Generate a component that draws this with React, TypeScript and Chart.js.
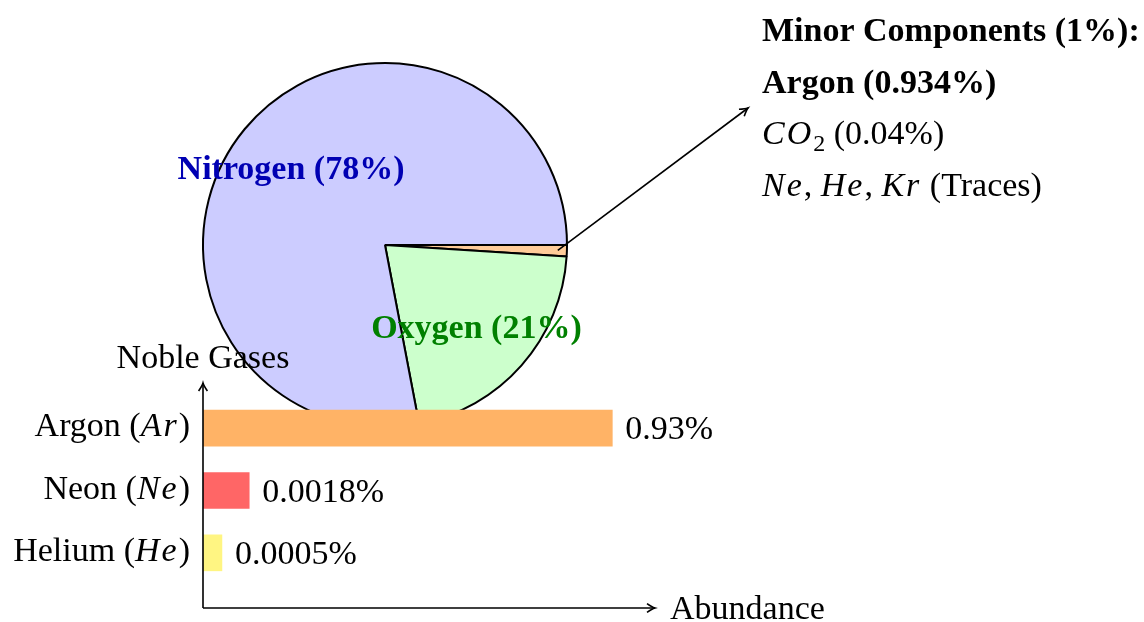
import React, { useEffect, useRef } from "react";
import { Chart, registerables } from "chart.js";

Chart.register(...registerables);

// ---------- Data ----------
const pieCategories = ["Minor Components", "Oxygen", "Nitrogen"];
const pieValues = [1, 21, 78];
const pieSliceLabels = ["", "Oxygen (21%)", "Nitrogen (78%)"];
const pieColors = ["rgb(255,204,153)", "rgb(204,255,204)", "rgb(204,204,255)"];
const pieLabelColors = ["#000", "rgb(0,128,0)", "rgb(0,0,179)"];

const minorTitleLines = ["Minor Components (1%):", "Argon (0.934%)"];
const minorDetailLines = ["$CO_2$ (0.04%)", "$Ne$, $He$, $Kr$ (Traces)"];

const gasCategories = ["Argon ($Ar$)", "Neon ($Ne$)", "Helium ($He$)"];
const gasBarLengths = [0.93, 0.105, 0.043];
const gasValueLabels = ["0.93%", "0.0018%", "0.0005%"];
const gasColors = ["rgb(255,179,102)", "rgb(255,102,102)", "rgb(255,245,130)"];

const yAxisTitle = "Noble Gases";
const xAxisTitle = "Abundance";

// ---------- Helpers ----------
const FAMILY = '"Liberation Serif", "Times New Roman", serif';
const SIZE = 34;

type Seg = { text: string; italic?: boolean; sub?: boolean };

function parseRich(s: string): Seg[] {
  const segs: Seg[] = [];
  s.split("$").forEach((p, i) => {
    if (!p) return;
    if (i % 2 === 1) {
      const m = p.split("_");
      if (m[0]) segs.push({ text: m[0], italic: true });
      for (let k = 1; k < m.length; k++) {
        segs.push({ text: m[k][0], sub: true });
        if (m[k].length > 1) segs.push({ text: m[k].slice(1), italic: true });
      }
    } else {
      segs.push({ text: p });
    }
  });
  return segs;
}

function fontOf(seg: Seg, size: number, bold: boolean) {
  const s = seg.sub ? Math.round(size * 0.7) : size;
  return `${seg.italic ? "italic " : ""}${bold ? "bold " : ""}${s}px ${FAMILY}`;
}

const MATH_GAP = 2;

function segWidth(ctx: CanvasRenderingContext2D, seg: Seg, size: number, bold: boolean) {
  ctx.font = fontOf(seg, size, bold);
  if (seg.italic) {
    let w = 0;
    for (const ch of seg.text) w += ctx.measureText(ch).width;
    return w + MATH_GAP * seg.text.length;
  }
  return ctx.measureText(seg.text).width;
}

function drawRich(
  ctx: CanvasRenderingContext2D,
  s: string,
  x: number,
  y: number,
  opts: { size?: number; bold?: boolean; align?: "left" | "right" | "center"; color?: string } = {}
) {
  const size = opts.size ?? SIZE;
  const bold = !!opts.bold;
  const segs = parseRich(s);
  const widths = segs.map((g) => segWidth(ctx, g, size, bold));
  const total = widths.reduce((a, b) => a + b, 0);
  let cx = x;
  if (opts.align === "right") cx = x - total;
  else if (opts.align === "center") cx = x - total / 2;
  ctx.save();
  ctx.fillStyle = opts.color ?? "#000";
  ctx.textAlign = "left";
  ctx.textBaseline = "alphabetic";
  segs.forEach((g, i) => {
    ctx.font = fontOf(g, size, bold);
    const yy = g.sub ? y + size * 0.2 : y;
    if (g.italic) {
      let px = cx;
      for (const ch of g.text) {
        ctx.fillText(ch, px, yy);
        px += ctx.measureText(ch).width + MATH_GAP;
      }
    } else {
      ctx.fillText(g.text, cx, yy);
    }
    cx += widths[i];
  });
  ctx.restore();
}

function arrowHead(ctx: CanvasRenderingContext2D, x: number, y: number, angle: number, len = 8) {
  ctx.save();
  ctx.translate(x, y);
  ctx.rotate(angle);
  ctx.beginPath();
  ctx.moveTo(-len, -len * 0.55);
  ctx.quadraticCurveTo(-len * 0.35, -len * 0.1, 0, 0);
  ctx.quadraticCurveTo(-len * 0.35, len * 0.1, -len, len * 0.55);
  ctx.stroke();
  ctx.restore();
}

// ---------- Plugins ----------
const pieDecor = {
  id: "pieDecor",
  afterDraw(chart: any) {
    const ctx: CanvasRenderingContext2D = chart.ctx;
    const arcs = chart.getDatasetMeta(0).data;
    // slice labels
    arcs.forEach((arc: any, i: number) => {
      const text = pieSliceLabels[i];
      if (!text) return;
      const mid = (arc.startAngle + arc.endAngle) / 2;
      const r = arc.outerRadius * 0.67;
      const x = arc.x + r * Math.cos(mid);
      const y = arc.y + r * Math.sin(mid);
      ctx.save();
      ctx.font = `bold ${SIZE}px ${FAMILY}`;
      ctx.fillStyle = pieLabelColors[i];
      ctx.textAlign = "center";
      ctx.textBaseline = "alphabetic";
      ctx.fillText(text, x, y + 12);
      ctx.restore();
    });
    // arrow from minor slice to annotation
    const minor = arcs[0];
    const mid = (minor.startAngle + minor.endAngle) / 2;
    const sx = minor.x + minor.outerRadius * 0.95 * Math.cos(mid);
    const sy = minor.y + minor.outerRadius * 0.95 * Math.sin(mid);
    const ex = 748;
    const ey = 108;
    ctx.save();
    ctx.strokeStyle = "#000";
    ctx.lineWidth = 1.6;
    ctx.beginPath();
    ctx.moveTo(sx, sy);
    ctx.lineTo(ex, ey);
    ctx.stroke();
    arrowHead(ctx, ex, ey, Math.atan2(ey - sy, ex - sx), 8);
    ctx.restore();
    // annotation text
    const tx = 762;
    let ty = 41;
    const step = 51.5;
    minorTitleLines.forEach((l) => {
      drawRich(ctx, l, tx, ty, { bold: true });
      ty += step;
    });
    minorDetailLines.forEach((l) => {
      drawRich(ctx, l, tx, ty);
      ty += step;
    });
  },
};

const barDecor = {
  id: "barDecor",
  afterDraw(chart: any) {
    const ctx: CanvasRenderingContext2D = chart.ctx;
    const area = chart.chartArea;
    const yScale = chart.scales.y;
    const xScale = chart.scales.x;
    const ox = area.left;
    const oy = area.bottom + 24;
    const topY = area.top - 14;
    const rightX = area.right;
    ctx.save();
    ctx.strokeStyle = "#000";
    ctx.lineWidth = 1.6;
    ctx.beginPath();
    ctx.moveTo(ox, oy);
    ctx.lineTo(ox, topY);
    ctx.moveTo(ox, oy);
    ctx.lineTo(rightX, oy);
    ctx.stroke();
    arrowHead(ctx, ox, topY, -Math.PI / 2, 8);
    arrowHead(ctx, rightX, oy, 0, 8);
    ctx.restore();

    drawRich(ctx, yAxisTitle, ox, topY - 15, { align: "center" });
    drawRich(ctx, xAxisTitle, rightX + 15, oy + 11, { align: "left" });

    gasCategories.forEach((c, i) => {
      const cy = yScale.getPixelForValue(i);
      drawRich(ctx, c, ox - 13, cy + 8, { align: "right" });
      const endX = xScale.getPixelForValue(gasBarLengths[i]);
      drawRich(ctx, gasValueLabels[i], endX + 13, cy + 11, { align: "left" });
    });
  },
};

// ---------- Component ----------
const W = 1144;
const H = 622;

export default function App() {
  const pieRef = useRef<HTMLCanvasElement | null>(null);
  const barRef = useRef<HTMLCanvasElement | null>(null);

  useEffect(() => {
    if (!pieRef.current || !barRef.current) return;
    const pie = new Chart(pieRef.current, {
      type: "pie",
      data: {
        labels: pieCategories,
        datasets: [
          {
            data: pieValues,
            backgroundColor: pieColors,
            borderColor: "#000",
            borderWidth: 2,
            hoverOffset: 0,
            offset: 0,
          } as any,
        ],
      },
      options: {
        responsive: false,
        animation: false,
        rotation: 90,
        layout: { padding: { left: 202, right: 576, top: 62, bottom: 194 } },
        plugins: { legend: { display: false }, tooltip: { enabled: false } },
        events: [],
      } as any,
      plugins: [pieDecor],
    });

    const bar = new Chart(barRef.current, {
      type: "bar",
      data: {
        labels: gasCategories,
        datasets: [
          {
            data: gasBarLengths,
            backgroundColor: gasColors,
            borderWidth: 0,
            barThickness: 36,
          },
        ],
      },
      options: {
        indexAxis: "y",
        responsive: false,
        animation: false,
        layout: { padding: { left: 203, right: 489, top: 397, bottom: 38 } },
        scales: {
          x: { min: 0, max: 1.027, display: false },
          y: { display: false },
        },
        plugins: { legend: { display: false }, tooltip: { enabled: false } },
        events: [],
      } as any,
      plugins: [barDecor],
    });

    return () => {
      pie.destroy();
      bar.destroy();
    };
  }, []);

  return (
    <div style={{ position: "absolute", left: 0, top: 0, width: W, height: H, background: "#fff" }}>
      <canvas ref={pieRef} width={W} height={H} style={{ position: "absolute", left: 0, top: 0, width: W, height: H }} />
      <canvas ref={barRef} width={W} height={H} style={{ position: "absolute", left: 0, top: 0, width: W, height: H }} />
    </div>
  );
}
